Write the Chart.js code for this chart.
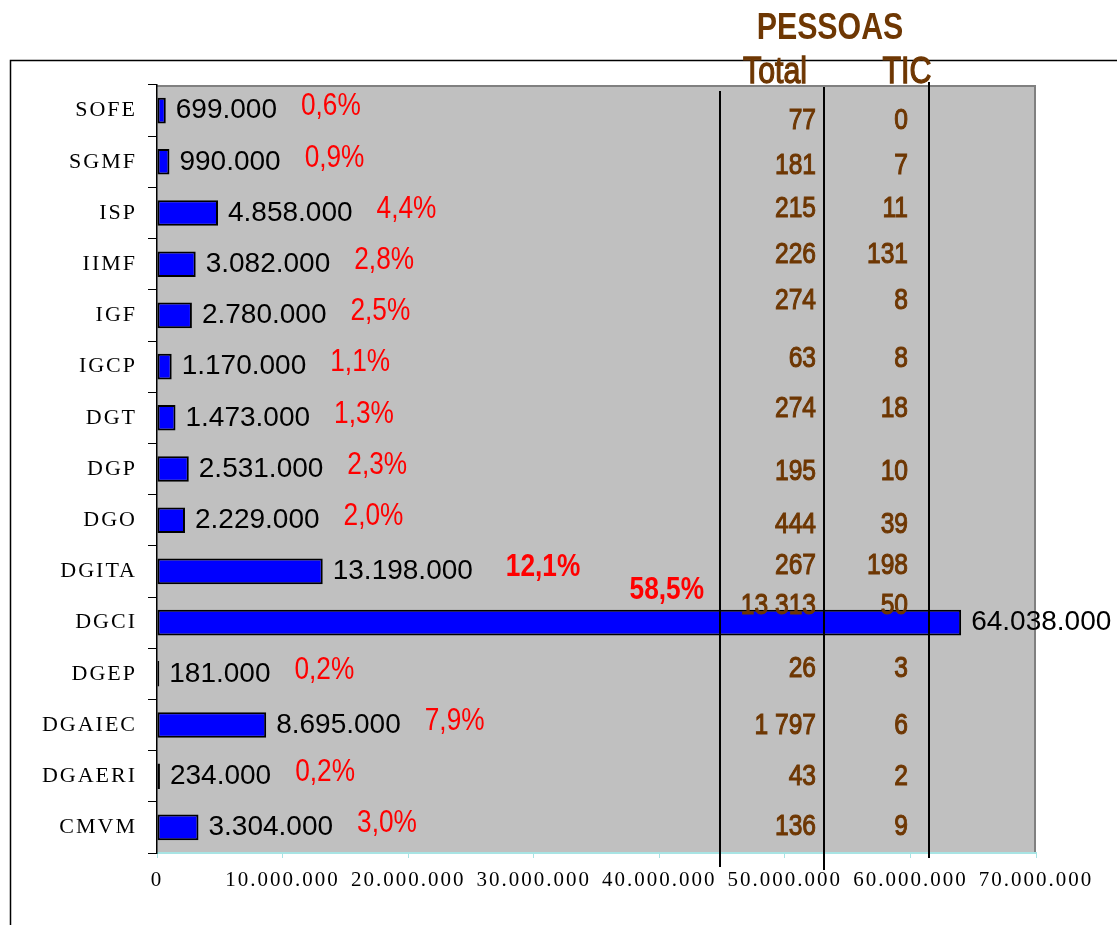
<!DOCTYPE html>
<html>
<head>
<meta charset="utf-8">
<script src="https://cdn.jsdelivr.net/npm/chart.js@4"></script>
<style>
  html, body { margin: 0; background: #fff; }
  #wrap { position: relative; width: 1117px; height: 925px; }
</style>
</head>
<body>
<div id="wrap"><canvas id="budgetChart"></canvas></div>
<script>
// data
const categories = ['SOFE', 'SGMF', 'ISP', 'IIMF', 'IGF', 'IGCP', 'DGT', 'DGP', 'DGO', 'DGITA', 'DGCI', 'DGEP', 'DGAIEC', 'DGAERI', 'CMVM'];
const budget = [699000, 990000, 4858000, 3082000, 2780000, 1170000, 1473000, 2531000, 2229000, 13198000, 64038000, 181000, 8695000, 234000, 3304000];
const sharePct = [0.6, 0.9, 4.4, 2.8, 2.5, 1.1, 1.3, 2.3, 2.0, 12.1, 58.5, 0.2, 7.9, 0.2, 3.0];
const peopleTotal = [77, 181, 215, 226, 274, 63, 274, 195, 444, 267, 13313, 26, 1797, 43, 136];
const peopleTIC = [0, 7, 11, 131, 8, 8, 18, 10, 39, 198, 50, 3, 6, 2, 9];
const xTickValues = [0, 10000000, 20000000, 30000000, 40000000, 50000000, 60000000, 70000000];

// layout tweaks (text boxes in the original sit a bit off the row centres)
const rowNudge = [10, 4, -4, -9, -15, -8, -9, 3, 5, -6, -17, -5, 1, 1, -1];
const BROWN = '#6e3703';
const SANS = '"Liberation Sans", Arial, sans-serif';
const NARROW = 0.82;

const dots = n => String(n).replace(/\B(?=(\d{3})+(?!\d))/g, '.');
const spaced = n => String(n).replace(/\B(?=(\d{3})+(?!\d))/g, ' ');
const pctText = p => p.toFixed(1).replace('.', ',') + '%';

// no narrow font installed, so squeeze the normal one
function narrowText(ctx, text, x, y, heavy) {
  ctx.save();
  ctx.translate(x, y);
  ctx.scale(NARROW, 1);
  ctx.fillText(text, 0, 0);
  if (heavy) {
    ctx.lineWidth = heavy;
    ctx.strokeStyle = ctx.fillStyle;
    ctx.strokeText(text, 0, 0);
  }
  ctx.restore();
}

const decor = {
  id: 'decor',
  beforeDraw(chart) {
    const { ctx, chartArea: a } = chart;
    ctx.save();
    ctx.fillStyle = '#c0c0c0';
    ctx.fillRect(a.left, a.top, a.right - a.left, a.bottom - a.top);
    ctx.strokeStyle = '#808080';
    ctx.lineWidth = 2;
    ctx.beginPath();
    ctx.moveTo(a.left, a.top + 1);
    ctx.lineTo(a.right - 1, a.top + 1);
    ctx.lineTo(a.right - 1, a.bottom);
    ctx.stroke();
    // outer frame
    ctx.strokeStyle = '#000';
    ctx.lineWidth = 1.5;
    ctx.beginPath();
    ctx.moveTo(10.5, 925);
    ctx.lineTo(10.5, 60.5);
    ctx.lineTo(1117, 60.5);
    ctx.stroke();
    ctx.restore();
    ctx.letterSpacing = '2px';
  },
  afterDatasetsDraw(chart) {
    const { ctx, chartArea: a } = chart;
    const xs = chart.scales.x, ys = chart.scales.y;
    ctx.save();
    ctx.letterSpacing = '0px';
    ctx.textBaseline = 'middle';
    budget.forEach((v, i) => {
      const bx = xs.getPixelForValue(v);
      const y = ys.getPixelForValue(i);
      ctx.font = '28px ' + SANS;
      ctx.fillStyle = '#000';
      ctx.textAlign = 'left';
      const label = dots(v);
      ctx.fillText(label, bx + 10, y);
      const w = ctx.measureText(label).width;
      const big = sharePct[i] > 10;
      ctx.font = (big ? 'bold ' : '') + '32px ' + SANS;
      ctx.fillStyle = '#ff0000';
      const pt = pctText(sharePct[i]);
      const px = bx + 10 + w + (big ? 33 : 24);
      if (px + ctx.measureText(pt).width * NARROW > a.right) {
        ctx.textAlign = 'center';
        narrowText(ctx, pt, xs.getPixelForValue(40600000), y - 32);
      } else {
        narrowText(ctx, pt, px, y - 4);
      }
    });
    ctx.restore();
  },
  afterDraw(chart) {
    const { ctx } = chart;
    const ys = chart.scales.y;
    ctx.save();
    ctx.letterSpacing = '0px';
    // table separators
    ctx.strokeStyle = '#000';
    ctx.lineWidth = 2;
    [[720, 91, 867], [824, 87, 870], [929, 82, 858]].forEach(([x, t, b]) => {
      ctx.beginPath();
      ctx.moveTo(x, t);
      ctx.lineTo(x, b);
      ctx.stroke();
    });
    ctx.fillStyle = BROWN;
    ctx.textBaseline = 'middle';
    ctx.textAlign = 'center';
    ctx.font = 'bold 37px ' + SANS;
    narrowText(ctx, 'PESSOAS', 830, 29);
    ctx.font = '37px ' + SANS;
    narrowText(ctx, 'Total', 775, 73, 1.3);
    narrowText(ctx, 'TIC', 907, 73, 1.3);
    ctx.font = '30px ' + SANS;
    ctx.textAlign = 'right';
    peopleTotal.forEach((v, i) => {
      const y = ys.getPixelForValue(i) + rowNudge[i];
      narrowText(ctx, spaced(v), 816, y, 1.1);
      narrowText(ctx, String(peopleTIC[i]), 908, y, 1.1);
    });
    ctx.restore();
  }
};

const chartCtx = document.getElementById('budgetChart').getContext('2d');
new Chart(chartCtx, {
  type: 'bar',
  data: {
    labels: categories,
    datasets: [{
      label: 'Orçamento',
      data: budget,
      backgroundColor: '#0000ff',
      borderColor: '#000',
      borderWidth: 2,
      borderSkipped: false,
      barPercentage: 0.5,
      categoryPercentage: 1
    }]
  },
  options: {
    indexAxis: 'y',
    responsive: true,
    maintainAspectRatio: false,
    animation: false,
    layout: { padding: { top: 85, right: 81, left: 0, bottom: 0 } },
    plugins: { legend: { display: false }, tooltip: { enabled: false } },
    scales: {
      x: {
        min: 0,
        max: 70000000,
        afterFit: s => { s.height = 72; },
        afterBuildTicks: s => { s.ticks = xTickValues.map(v => ({ value: v })); },
        ticks: {
          padding: 10,
          color: '#000',
          font: { family: '"Liberation Serif", "Times New Roman", serif', size: 21 },
          callback: v => dots(v)
        },
        grid: { drawOnChartArea: false, color: '#a8e4e4', tickLength: 5 },
        border: { color: '#a8e4e4', width: 2 }
      },
      y: {
        afterFit: s => { s.width = 157; },
        ticks: {
          padding: 11,
          color: '#000',
          font: { family: '"Liberation Serif", "Times New Roman", serif', size: 22 }
        },
        grid: { drawOnChartArea: false, color: '#000', tickLength: 9, offset: true },
        border: { color: '#000', width: 1.5 }
      }
    }
  },
  plugins: [decor]
});
</script>
</body>
</html>
